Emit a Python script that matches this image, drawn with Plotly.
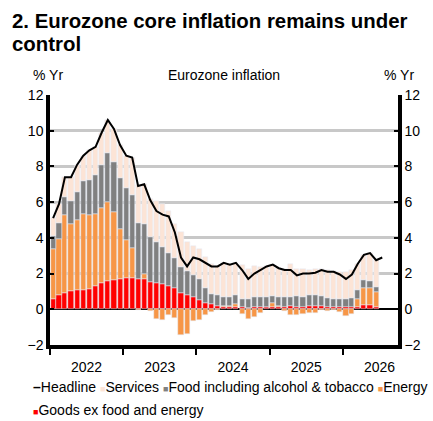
import plotly.graph_objects as go
import pandas as pd

# monthly, Jan 2022 .. Jul 2026 (bars stop at Jun 2026)
months = pd.date_range("2022-01-01", "2026-07-01", freq="MS")

headline = [5.1, 5.9, 7.4, 7.4, 8.1, 8.6, 8.9, 9.1, 9.9, 10.6, 10.1, 9.2,
            8.6, 8.5, 6.9, 7.0, 6.1, 5.5, 5.3, 5.2, 4.3, 2.9, 2.4, 2.9,
            2.8, 2.6, 2.4, 2.4, 2.6, 2.5, 2.6, 2.2, 1.7, 2.0, 2.2, 2.4,
            2.5, 2.3, 2.2, 2.2, 1.9, 2.0, 2.0, 2.05, 2.2, 2.1, 2.1, 1.95,
            1.7, 1.95, 2.55, 3.05, 3.15, 2.75, 2.9]

goods = [0.56, 0.78, 0.90, 1.00, 1.10, 1.10, 1.12, 1.30, 1.45, 1.57, 1.62, 1.70,
         1.73, 1.77, 1.68, 1.68, 1.55, 1.49, 1.42, 1.30, 1.17, 0.93, 0.80, 0.67,
         0.54, 0.34, 0.30, 0.19, 0.15, 0.12, 0.15, 0.11, 0.10, 0.12, 0.15, 0.13,
         0.13, 0.15, 0.15, 0.16, 0.15, 0.14, 0.20, 0.20, 0.20, 0.15, 0.15, 0.15,
         0.12, 0.15, 0.15, 0.24, 0.26, 0.15]

energy = [2.81, 3.15, 4.38, 3.76, 3.90, 4.24, 4.16, 4.04, 4.20, 4.46, 3.81, 2.80,
          2.15, 1.64, -0.05, 0.32, -0.10, -0.56, -0.58, -0.32, -0.50, -1.42, -1.36, -0.67,
          -0.60, -0.34, -0.15, -0.05, 0.03, 0.05, 0.15, -0.26, -0.55, -0.45, -0.19, 0.00,
          0.20, 0.02, -0.08, -0.33, -0.33, -0.24, -0.20, -0.18, -0.04, -0.09, -0.05, -0.13,
          -0.37, -0.26, 0.45, 0.97, 0.95, 0.80]

food = [0.73, 0.92, 1.02, 1.29, 1.58, 1.86, 1.97, 2.18, 2.45, 2.74, 2.83, 2.86,
        2.94, 2.99, 3.17, 2.75, 2.52, 2.30, 2.05, 1.87, 1.69, 1.46, 1.35, 1.23,
        1.14, 0.88, 0.57, 0.61, 0.53, 0.50, 0.50, 0.49, 0.50, 0.55, 0.56, 0.54,
        0.43, 0.54, 0.56, 0.55, 0.61, 0.57, 0.60, 0.60, 0.56, 0.50, 0.45, 0.45,
        0.48, 0.50, 0.48, 0.43, 0.38, 0.28]

services = [1.00, 1.05, 1.10, 1.35, 1.52, 1.40, 1.65, 1.58, 1.80, 1.83, 1.84, 1.84,
            1.78, 2.10, 2.10, 2.25, 2.13, 2.27, 2.41, 2.35, 1.94, 1.93, 1.61, 1.67,
            1.72, 1.72, 1.68, 1.65, 1.89, 1.83, 1.80, 1.86, 1.65, 1.78, 1.68, 1.73,
            1.74, 1.59, 1.57, 1.82, 1.47, 1.53, 1.40, 1.43, 1.48, 1.54, 1.55, 1.48,
            1.47, 1.56, 1.47, 1.41, 1.56, 1.52]

col_services = "#FCE4D6"
col_food = "#808080"
col_energy = "#F79646"
col_goods = "#FF0000"

font = "Liberation Sans, Arial, sans-serif"
W, H = 433, 421
ML, MR, MT, MB = 50, 26, 95, 76

bar_x = months[:len(goods)]
bar_w = 25.5 * 24 * 3600 * 1000

fig = go.Figure()

for name, vals, col in [("Goods ex food and energy", goods, col_goods),
                        ("Energy", energy, col_energy),
                        ("Food including alcohol & tobacco", food, col_food),
                        ("Services", services, col_services)]:
    fig.add_trace(go.Bar(x=bar_x, y=vals, name=name, marker_color=col,
                         width=bar_w, xperiod="M1", xperiodalignment="middle",
                         showlegend=False))

fig.add_trace(go.Scatter(x=months, y=headline, name="Headline", mode="lines",
                         line=dict(color="black", width=2),
                         xperiod="M1", xperiodalignment="middle",
                         showlegend=False))

# dummy trace so the right-hand axis is drawn
fig.add_trace(go.Scatter(x=[months[0]], y=[None], yaxis="y2",
                         showlegend=False, hoverinfo="skip"))

yax = dict(range=[-2, 12], dtick=2, showgrid=True, gridcolor="#C8C8C8",
           gridwidth=2.5, zeroline=True, zerolinecolor="black", zerolinewidth=2,
           showline=True, linecolor="black", linewidth=3.5,
           ticks="inside", ticklen=4, tickwidth=2, tickcolor="black",
           tickfont=dict(size=14, color="black", family=font))

fig.update_layout(
    width=W, height=H,
    margin=dict(l=ML, r=MR, t=MT, b=MB),
    plot_bgcolor="white", paper_bgcolor="white",
    barmode="relative", bargap=0,
    font=dict(family=font, size=14, color="black"),
    xaxis=dict(type="date", range=["2022-01-01", "2026-10-03"],
               dtick="M12", tick0="2022-01-01", ticklabelmode="period",
               tickformat="%Y", ticks="outside", ticklen=6, tickwidth=2,
               tickcolor="black", showline=True, linecolor="black",
               linewidth=3.5, showgrid=False,
               tickfont=dict(size=14, color="black", family=font)),
    yaxis=yax,
    yaxis2=dict(yax, overlaying="y", side="right", showgrid=False,
                zeroline=False),
    showlegend=False,
)


def key(col):
    return f'<span style="color:{col};font-size:9px">■</span>'


legend_row1 = ('<b>–</b>Headline '
               f'{key(col_services)}Services '
               f'{key(col_food)}Food including alcohol &amp; tobacco '
               f'{key(col_energy)}Energy')
legend_row2 = f'{key(col_goods)}Goods ex food and energy'

# (text, x px, y px from top, anchor, size)
notes = [
    ("<b>2. Eurozone core inflation remains under</b>", 9, 21, "left", 20.4),
    ("<b>control</b>", 9, 44, "left", 20.4),
    ("% Yr", 30, 75, "left", 14),
    ("% Yr", 425, 75, "right", 14),
    ("Eurozone inflation", 228, 75, "center", 14),
    (legend_row1, 30, 387, "left", 14),
    (legend_row2, 30, 410, "left", 14),
]
pw = W - ML - MR
ph = H - MT - MB
for text, px, py, xa, size in notes:
    fig.add_annotation(text=text, x=(px - ML) / pw, y=(H - py - MB) / ph,
                       xref="paper", yref="paper", xanchor=xa, yanchor="middle",
                       align="left", showarrow=False,
                       font=dict(size=size, color="black", family=font))

fig.write_html("out.html", config={"displayModeBar": False},
               post_script="document.body.style.margin='0';")
